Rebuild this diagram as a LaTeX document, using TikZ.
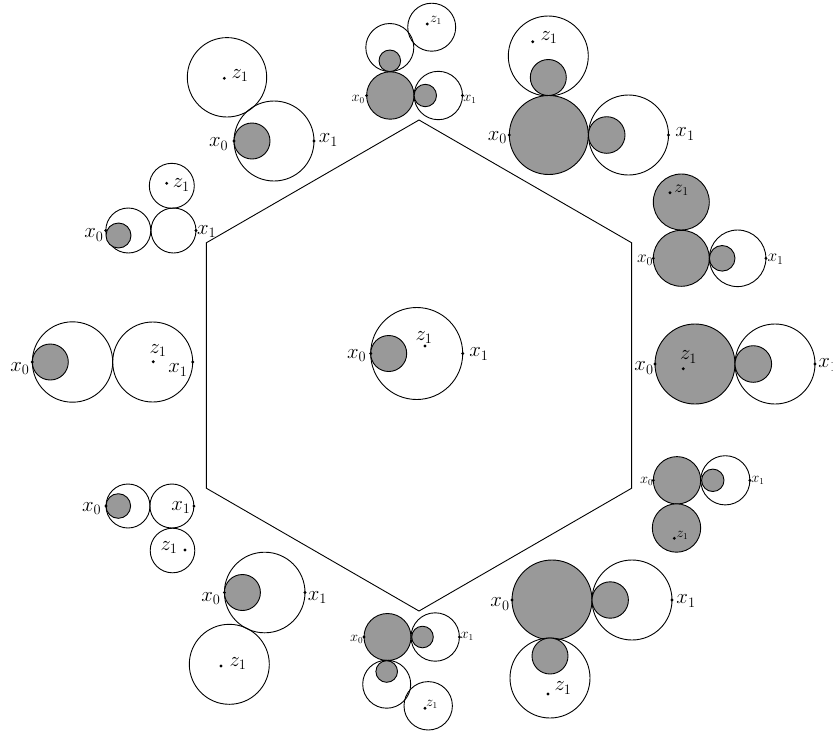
\documentclass[tikz,border=0pt]{standalone}
\usepackage{tikz}
\definecolor{gfill}{RGB}{153,153,153}
\tikzset{
  wc/.style={draw=black, line width=0.9pt},
  gc/.style={draw=black, fill=gfill, line width=0.9pt},
  hexline/.style={draw=black, line width=0.9pt},
  dotpt/.style={circle, fill=black, inner sep=0pt, minimum size=3.2pt},
  bigl/.style={inner sep=0pt, font=\fontsize{22}{26}\selectfont},
  medl/.style={inner sep=0pt, font=\fontsize{17}{20}\selectfont},
  smll/.style={inner sep=0pt, font=\fontsize{13.5}{16}\selectfont}
}
\newcommand{\wcir}[3]{\draw[wc] (#1,#2) circle[radius=#3pt];}
\newcommand{\gcir}[3]{\draw[gc] (#1,#2) circle[radius=#3pt];}
\newcommand{\pdot}[3]{\node[dotpt] (#1) at (#2,#3) {};}
\begin{document}
\begin{tikzpicture}[x=1pt,y=-1pt]
\useasboundingbox (0,0) rectangle (833,732);
% hexagon
\coordinate (h1) at (419,120);
\coordinate (h2) at (631.6,242.75);
\coordinate (h3) at (631.6,488.25);
\coordinate (h4) at (419,611);
\coordinate (h5) at (206.4,488.25);
\coordinate (h6) at (206.4,242.75);
\draw[hexline] (h1) -- (h2) -- (h3) -- (h4) -- (h5) -- (h6) -- cycle;

% centre group
\wcir{416.7}{353.5}{46}
\gcir{388.7}{353.5}{18}
\pdot{c0}{370.7}{353.5}\pdot{c1}{462.7}{353.5}\pdot{cz}{425}{346}
\node[bigl] (c0l) at (356.7,355.5) {$x_0$};
\node[bigl] (c1l) at (479,354) {$x_1$};
\node[bigl] (czl) at (424,337.5) {$z_1$};

% group 1 (top)
\wcir{389.8}{47.5}{24}
\gcir{389.8}{60.8}{10.8}
\wcir{431.7}{27.2}{24}
\gcir{390.3}{95.5}{23.7}
\wcir{438.3}{95.5}{24.2}
\gcir{425.3}{95.5}{11.2}
\pdot{a0}{366.6}{95.5}\pdot{a1}{462.5}{95.5}\pdot{az}{427.3}{24}
\node[smll] (a0l) at (358.3,99) {$x_0$};
\node[smll] (a1l) at (470,99.5) {$x_1$};
\node[smll] (azl) at (436,20) {$z_1$};

% group 2
\wcir{548.3}{56}{40}
\gcir{548.3}{77.5}{18}
\gcir{548.8}{135}{39.5}
\wcir{628.5}{135}{40}
\gcir{606.7}{135}{18.3}
\pdot{b0}{509.3}{135}\pdot{b1}{668.5}{135}\pdot{bz}{532.7}{41.7}
\node[bigl] (b0l) at (497.5,137.5) {$x_0$};
\node[bigl] (b1l) at (685,134) {$x_1$};
\node[bigl] (bzl) at (549,37.5) {$z_1$};

% group 3
\gcir{681.3}{202}{28}
\gcir{681.3}{258.3}{28}
\wcir{737.6}{258.3}{28.3}
\gcir{722.2}{258.3}{12.8}
\pdot{d0}{653.3}{258.3}\pdot{d1}{765.9}{258.3}\pdot{dz}{670}{192.7}
\node[medl] (d0l) at (645,260) {$x_0$};
\node[medl] (d1l) at (775.5,259) {$x_1$};
\node[medl] (dzl) at (681.5,190.5) {$z_1$};

% group 4
\gcir{695}{364}{40}
\wcir{775}{364}{40}
\gcir{753.3}{364}{18.3}
\pdot{e0}{655}{364}\pdot{e1}{815}{364}\pdot{ez}{683.3}{368.7}
\node[bigl] (e0l) at (644,368) {$x_0$};
\node[bigl] (e1l) at (828,365) {$x_1$};
\node[bigl] (ezl) at (688.5,357) {$z_1$};

% group 5
\gcir{677}{480.3}{23.7}
\gcir{676.5}{528}{24.2}
\wcir{725.3}{480.3}{24.6}
\gcir{712.8}{480.3}{11.2}
\pdot{f0}{653.3}{480.3}\pdot{f1}{749.9}{480.3}\pdot{fz}{674.3}{538.3}
\node[smll] (f0l) at (646.7,481) {$x_0$};
\node[smll] (f1l) at (758,480) {$x_1$};
\node[smll] (fzl) at (682.5,535) {$z_1$};

% group 6
\gcir{552}{600}{40}
\wcir{632}{600}{40}
\gcir{610.2}{600}{18.2}
\wcir{550}{678}{40}
\gcir{550}{656}{18}
\pdot{g0}{512}{600}\pdot{g1}{672}{600}\pdot{gz}{548}{694}
\node[bigl] (g0l) at (500,604) {$x_0$};
\node[bigl] (g1l) at (686,601) {$x_1$};
\node[bigl] (gzl) at (563,688) {$z_1$};

% group 7 (bottom)
\gcir{387.5}{637}{23.5}
\wcir{435.2}{637}{24.2}
\gcir{422.5}{637}{10.8}
\wcir{386.7}{684.2}{24}
\gcir{386.7}{671.5}{10.8}
\wcir{428.2}{705.8}{24.2}
\pdot{k0}{364}{637}\pdot{k1}{459.4}{637}\pdot{kz}{425}{708.3}
\node[smll] (k0l) at (356.7,639) {$x_0$};
\node[smll] (k1l) at (467.3,636.7) {$x_1$};
\node[smll] (kzl) at (432,704.7) {$z_1$};

% group 8
\wcir{264.7}{592.5}{40.3}
\gcir{242.4}{592.5}{18}
\wcir{229.3}{664.3}{40}
\pdot{m0}{224.4}{592.5}\pdot{m1}{305}{592.5}\pdot{mz}{221}{666}
\node[bigl] (m0l) at (210.8,598.3) {$x_0$};
\node[bigl] (m1l) at (317.5,597.5) {$x_1$};
\node[bigl] (mzl) at (238,663.3) {$z_1$};

% group 9
\wcir{128}{506}{22}
\gcir{118.3}{506}{12.3}
\wcir{171.9}{506}{22}
\wcir{172.5}{550.5}{22.3}
\pdot{n0}{106}{506}\pdot{n1}{193.9}{506}\pdot{nz}{185}{550}
\node[bigl] (n0l) at (91.7,508.3) {$x_0$};
\node[bigl] (n1l) at (180.8,507.5) {$x_1$};
\node[bigl] (nzl) at (169,547.5) {$z_1$};

% group 10
\wcir{72.5}{362}{40.2}
\gcir{50.3}{362}{18}
\wcir{152.7}{362}{40}
\pdot{p0}{32.3}{362}\pdot{p1}{192.7}{362}\pdot{pz}{153.3}{361.7}
\node[bigl] (p0l) at (20,368.3) {$x_0$};
\node[bigl] (p1l) at (178,370) {$x_1$};
\node[bigl] (pzl) at (158,350.5) {$z_1$};

% group 11
\wcir{128.3}{230.5}{22.5}
\gcir{118.5}{235.5}{12.5}
\wcir{173.5}{230.5}{22.5}
\wcir{171.8}{185.8}{22.5}
\pdot{q0}{105.8}{230.5}\pdot{q1}{196}{230.5}\pdot{qz}{166.7}{183.3}
\node[bigl] (q0l) at (94,235) {$x_0$};
\node[bigl] (q1l) at (206.7,231.5) {$x_1$};
\node[bigl] (qzl) at (181.3,185) {$z_1$};

% group 12
\wcir{274}{141}{40}
\gcir{252}{141}{18}
\wcir{227}{77.3}{39.7}
\pdot{r0}{234}{141}\pdot{r1}{314}{141}\pdot{rz}{224.3}{78.3}
\node[bigl] (r0l) at (218.7,144) {$x_0$};
\node[bigl] (r1l) at (328.3,140) {$x_1$};
\node[bigl] (rzl) at (240,75.8) {$z_1$};
\end{tikzpicture}
\end{document}
